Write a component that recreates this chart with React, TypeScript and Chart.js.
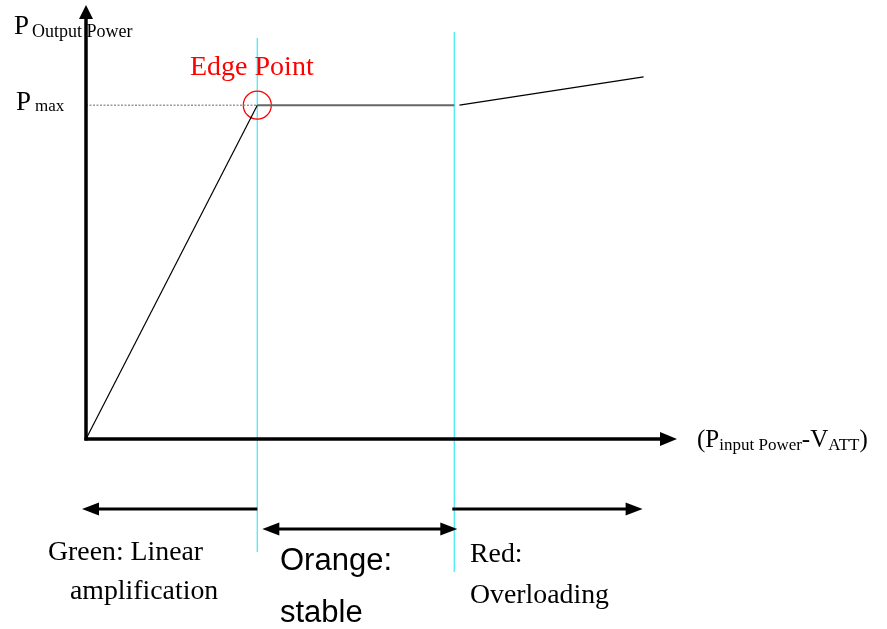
import React, { useEffect, useRef } from "react";
import { Chart, registerables } from "chart.js";

Chart.register(...registerables);

// ---- data (conceptual units: dB) ----
const linearX = [0, 10];
const linearY = [0, 10];
const stableX = [10, 21.5];
const stableY = [10, 10];
const overloadX = [21.8, 32.55];
const overloadY = [10, 10.85];
const pMax = 10;
const edgeX = 10;
const overloadStartX = 21.5;
const xAxisMax = 34.5;
const yAxisMax = 13;

const yAxisLabel = ["P", "Output Power"];
const pMaxLabel = ["P", "max"];
const xAxisLabel = ["(P", "input Power", "-V", "ATT", ")"];
const edgeLabel = "Edge Point";
const greenLabel = ["Green: Linear", "amplification"];
const orangeLabel = ["Orange:", "stable"];
const redLabel = ["Red:", "Overloading"];

const SERIF = '"Liberation Serif", "Times New Roman", serif';
const SANS = '"Liberation Sans", Arial, sans-serif';

const pts = (xs: number[], ys: number[]) => xs.map((x, i) => ({ x, y: ys[i] }));

function txt(ctx: CanvasRenderingContext2D, s: string, x: number, y: number, size: number, family: string, color = "#000") {
  ctx.font = `${size}px ${family}`;
  ctx.fillStyle = color;
  ctx.textBaseline = "alphabetic";
  ctx.textAlign = "left";
  ctx.fillText(s, x, y);
  return ctx.measureText(s).width;
}

function head(ctx: CanvasRenderingContext2D, tipX: number, tipY: number, dir: "l" | "r" | "u", len: number, half: number) {
  ctx.beginPath();
  if (dir === "r") {
    ctx.moveTo(tipX, tipY);
    ctx.lineTo(tipX - len, tipY - half);
    ctx.lineTo(tipX - len, tipY + half);
  } else if (dir === "l") {
    ctx.moveTo(tipX, tipY);
    ctx.lineTo(tipX + len, tipY - half);
    ctx.lineTo(tipX + len, tipY + half);
  } else {
    ctx.moveTo(tipX, tipY);
    ctx.lineTo(tipX - half, tipY + len);
    ctx.lineTo(tipX + half, tipY + len);
  }
  ctx.closePath();
  ctx.fill();
}

function hline(ctx: CanvasRenderingContext2D, x1: number, x2: number, y: number, w: number) {
  ctx.lineWidth = w;
  ctx.beginPath();
  ctx.moveTo(x1, y);
  ctx.lineTo(x2, y);
  ctx.stroke();
}

const diagramPlugin = {
  id: "diagram",
  beforeDatasetsDraw(chart: any) {
    const ctx: CanvasRenderingContext2D = chart.ctx;
    const xs = chart.scales.x;
    const ys = chart.scales.y;
    const y0 = ys.getPixelForValue(0);
    ctx.save();
    ctx.strokeStyle = "#55eef5";
    ctx.lineWidth = 1.4;
    const e = xs.getPixelForValue(edgeX);
    const o = xs.getPixelForValue(overloadStartX);
    ctx.beginPath();
    ctx.moveTo(e, 38);
    ctx.lineTo(e, y0 + 113);
    ctx.moveTo(o, 32);
    ctx.lineTo(o, y0 + 133);
    ctx.stroke();
    ctx.restore();
  },
  afterDatasetsDraw(chart: any) {
    const ctx: CanvasRenderingContext2D = chart.ctx;
    const xs = chart.scales.x;
    const ys = chart.scales.y;
    const ca = chart.chartArea;
    const x0 = xs.getPixelForValue(0);
    const y0 = ys.getPixelForValue(0);
    const e = xs.getPixelForValue(edgeX);
    const o = xs.getPixelForValue(overloadStartX);
    ctx.save();
    ctx.strokeStyle = "#000";
    ctx.fillStyle = "#000";
    ctx.lineCap = "butt";
    // y axis
    ctx.lineWidth = 3.5;
    ctx.beginPath();
    ctx.moveTo(x0, y0 + 1.5);
    ctx.lineTo(x0, ca.top + 12);
    ctx.stroke();
    head(ctx, x0, ca.top, "u", 14, 7);
    // x axis
    ctx.beginPath();
    ctx.moveTo(x0 - 1.5, y0);
    ctx.lineTo(ca.right - 14, y0);
    ctx.stroke();
    head(ctx, ca.right, y0, "r", 17, 7);

    // region arrows
    const r1 = y0 + 70;
    const r2 = y0 + 90;
    hline(ctx, e, x0 + 10, r1, 3);
    head(ctx, x0 - 4, r1, "l", 17, 6.5);
    hline(ctx, o - 2, xs.getPixelForValue(overloadX[1]) - 12, r1, 3);
    head(ctx, xs.getPixelForValue(overloadX[1]) - 1, r1, "r", 17, 6.5);
    hline(ctx, e + 14, o - 10, r2, 3);
    head(ctx, e + 5, r2, "l", 17, 6.5);
    head(ctx, o + 3, r2, "r", 17, 6.5);

    // texts
    let w = txt(ctx, yAxisLabel[0], 14, 34, 27, SERIF);
    txt(ctx, yAxisLabel[1], 14 + w + 3, 37, 18, SERIF);
    const yp = ys.getPixelForValue(pMax);
    w = txt(ctx, pMaxLabel[0], 16, yp + 5, 27, SERIF);
    txt(ctx, pMaxLabel[1], 16 + w + 4, yp + 6, 17, SERIF);
    txt(ctx, edgeLabel, 190, 75, 28, SERIF, "#ff0000");

    let cx = 697;
    const by = y0 + 8;
    cx += txt(ctx, xAxisLabel[0], cx, by, 25, SERIF);
    cx += txt(ctx, xAxisLabel[1], cx, by + 3, 17, SERIF);
    cx += txt(ctx, xAxisLabel[2], cx, by, 25, SERIF);
    cx += txt(ctx, xAxisLabel[3], cx, by + 3, 17, SERIF);
    txt(ctx, xAxisLabel[4], cx, by, 25, SERIF);

    txt(ctx, greenLabel[0], 48, 560, 27.8, SERIF);
    txt(ctx, greenLabel[1], 70, 599, 27.8, SERIF);
    txt(ctx, orangeLabel[0], 280, 570, 31, SANS);
    txt(ctx, orangeLabel[1], 280, 622, 31, SANS);
    txt(ctx, redLabel[0], 470, 562, 27.8, SERIF);
    txt(ctx, redLabel[1], 470, 603, 27.8, SERIF);
    ctx.restore();
  },
};

export default function App() {
  const ref = useRef<HTMLCanvasElement | null>(null);
  useEffect(() => {
    if (!ref.current) return;
    const chart = new Chart(ref.current, {
      type: "scatter",
      data: {
        datasets: [
          {
            data: [{ x: 0, y: pMax }, { x: edgeX, y: pMax }],
            showLine: true,
            borderColor: "#9a9a9a",
            borderWidth: 1.5,
            borderDash: [2, 1.5],
            pointRadius: 0,
          },
          {
            data: pts(linearX, linearY),
            showLine: true,
            borderColor: "#000",
            borderWidth: 1.2,
            pointRadius: 0,
          },
          {
            data: pts(stableX, stableY),
            showLine: true,
            borderColor: "#666",
            borderWidth: 2,
            pointRadius: 0,
          },
          {
            data: pts(overloadX, overloadY),
            showLine: true,
            borderColor: "#000",
            borderWidth: 1.3,
            pointRadius: 0,
          },
          {
            data: [{ x: edgeX, y: pMax }],
            showLine: false,
            pointRadius: 14,
            pointBorderColor: "#ff0000",
            pointBackgroundColor: "rgba(0,0,0,0)",
            pointBorderWidth: 1.3,
          },
        ],
      },
      options: {
        animation: false,
        responsive: false,
        layout: { autoPadding: false, padding: { left: 86, top: 5, right: 210, bottom: 190 } },
        plugins: { legend: { display: false }, tooltip: { enabled: false } },
        scales: {
          x: { type: "linear", min: 0, max: xAxisMax, display: false },
          y: { type: "linear", min: 0, max: yAxisMax, display: false },
        },
        datasets: { scatter: { clip: false } } as any,
      },
      plugins: [diagramPlugin],
    });
    return () => chart.destroy();
  }, []);
  return (
    <div style={{ position: "fixed", left: 0, top: 0, width: 887, height: 629, background: "#fff" }}>
      <canvas ref={ref} width={887} height={629} />
    </div>
  );
}
